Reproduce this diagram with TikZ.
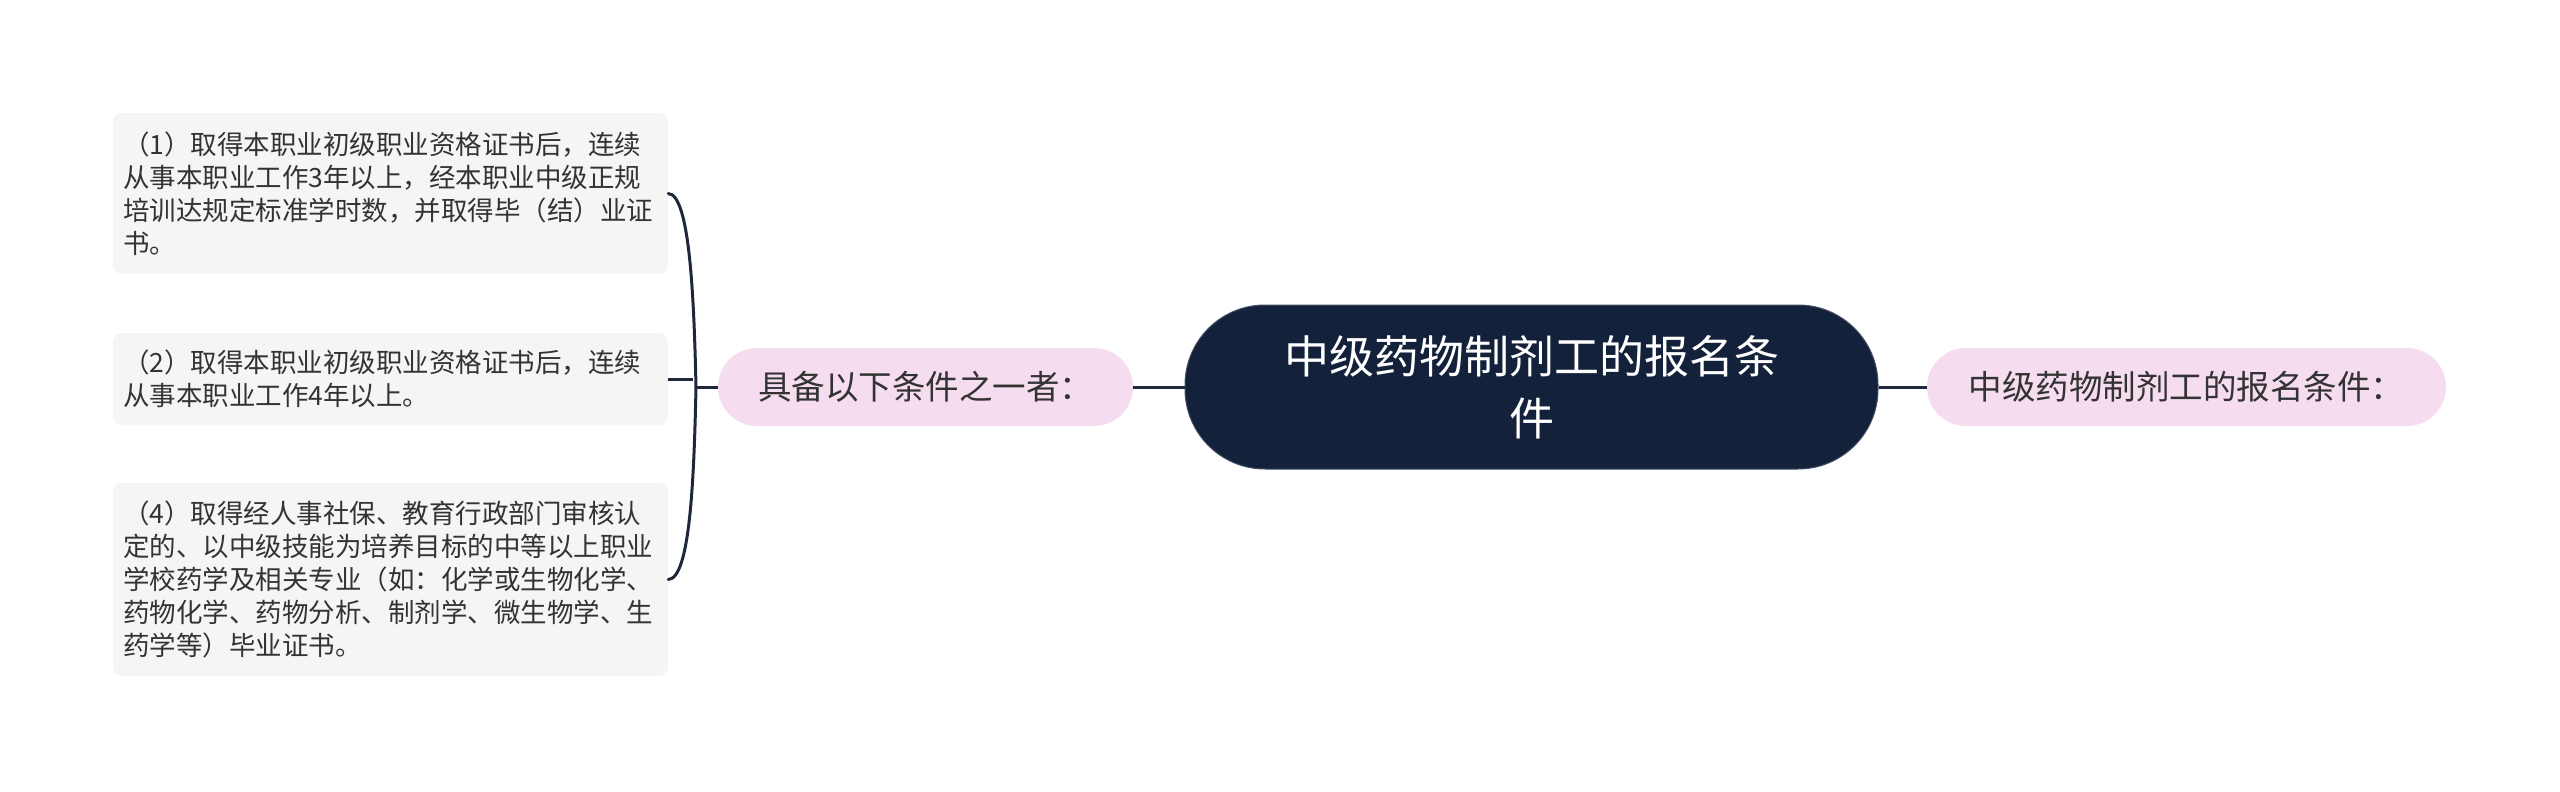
\documentclass[tikz,border=0pt]{standalone}
\usepackage{fontspec}
\newfontfamily\cjk{Noto Sans CJK SC}
\definecolor{navy}{HTML}{13213A}
\definecolor{pinkfill}{HTML}{F6DCEF}
\definecolor{leaffill}{HTML}{F5F5F5}
\definecolor{txt}{HTML}{333333}
\definecolor{linec}{HTML}{1E2838}
\begin{document}
\begin{tikzpicture}[x=1pt,y=-1pt,
  leafbox/.style={rectangle,rounded corners=9pt,fill=leaffill,minimum width=555pt,
    text width=535pt,inner xsep=10pt,inner ysep=0pt,align=left,text=txt,
    font=\cjk\fontsize{26.5}{33}\selectfont},
  pinkbox/.style={rectangle,rounded corners=39pt,fill=pinkfill,minimum height=78pt,
    inner xsep=0pt,inner ysep=0pt,text=txt,font=\cjk\fontsize{33.5}{40}\selectfont},
  rootbox/.style={rectangle,rounded corners=80pt,fill=navy,draw=navy!80!white,line width=1pt,
    minimum width=693pt,minimum height=164pt,align=center,text=white,
    font=\cjk\fontsize{45}{62}\selectfont},
  conn/.style={draw=linec,line width=3pt}]
\useasboundingbox (0,0) rectangle (2560,792);
\node[rootbox] (root) at (1531.5,387) {中级药物制剂工的报名条\\件};
\node[pinkbox,minimum width=415pt] (left) at (925.5,387) {具备以下条件之一者：};
\node[pinkbox,minimum width=519pt] (right) at (2186.5,387) {中级药物制剂工的报名条件：};
\node[leafbox,minimum height=161pt] (l1) at (390.5,193.5) {（1）取得本职业初级职业资格证书后，连续\\从事本职业工作3年以上，经本职业中级正规\\培训达规定标准学时数，并取得毕（结）业证\\书。};
\node[leafbox,minimum height=92pt] (l2) at (390.5,379) {（2）取得本职业初级职业资格证书后，连续\\从事本职业工作4年以上。};
\node[leafbox,minimum height=193pt] (l3) at (390.5,579.5) {（4）取得经人事社保、教育行政部门审核认\\定的、以中级技能为培养目标的中等以上职业\\学校药学及相关专业（如：化学或生物化学、\\药物化学、药物分析、制剂学、微生物学、生\\药学等）毕业证书。};
\coordinate (j) at (696,387);
\coordinate (j2) at (693,379);
\draw[conn] (root.east) -- (right.west);
\draw[conn] (left.east) -- (root.west);
\draw[conn] (j) -- (left.west);
\draw[conn,line cap=round] (l1.east) .. controls (690,194) and (694,300) .. (j);
\draw[conn,line cap=round] (j) .. controls (694,480) and (690,579) .. (l3.east);
\draw[conn] (l2.east) -- (j2);
\end{tikzpicture}
\end{document}
